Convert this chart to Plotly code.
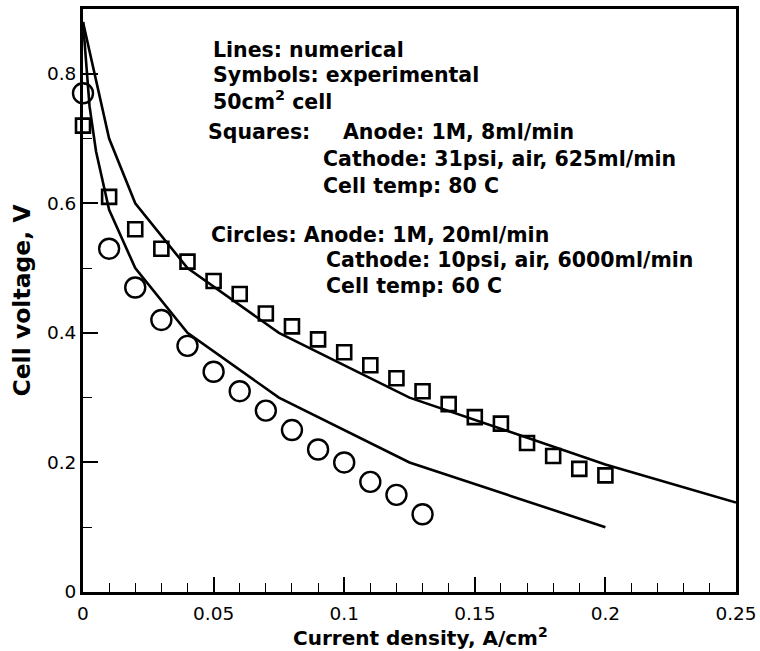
import plotly.graph_objects as go

# Experimental polarization data (current density in A/cm^2, cell voltage in V)
squares_j = [0.00, 0.01, 0.02, 0.03, 0.04, 0.05, 0.06, 0.07, 0.08, 0.09, 0.10,
             0.11, 0.12, 0.13, 0.14, 0.15, 0.16, 0.17, 0.18, 0.19, 0.20]
squares_v = [0.72, 0.61, 0.56, 0.53, 0.51, 0.48, 0.46, 0.43, 0.41, 0.39, 0.37,
             0.35, 0.33, 0.31, 0.29, 0.27, 0.26, 0.23, 0.21, 0.19, 0.18]

circles_j = [0.00, 0.01, 0.02, 0.03, 0.04, 0.05, 0.06, 0.07, 0.08, 0.09, 0.10,
             0.11, 0.12, 0.13]
circles_v = [0.77, 0.53, 0.47, 0.42, 0.38, 0.34, 0.31, 0.28, 0.25, 0.22, 0.20,
             0.17, 0.15, 0.12]

# Numerical model curves
model_sq_j = [0.0, 0.01, 0.02, 0.04, 0.075, 0.125, 0.2, 0.25]
model_sq_v = [0.88, 0.70, 0.60, 0.50, 0.40, 0.30, 0.197, 0.138]

model_ci_j = [0.0, 0.0025, 0.005, 0.01, 0.02, 0.04, 0.075, 0.125, 0.2]
model_ci_v = [0.88, 0.75, 0.68, 0.59, 0.50, 0.40, 0.30, 0.20, 0.10]

# Axis ticks: major labels and minor subdivisions
x_ticks = [0, 0.05, 0.1, 0.15, 0.2, 0.25]
y_ticks = [0, 0.2, 0.4, 0.6, 0.8]
y_max = 0.9
x_minor_step = 0.01
y_minor_step = 0.1

FONT = "DejaVu Sans, Verdana, sans-serif"
BLACK = "#000000"

# Plot area in pixels
L, T, W, H = 83, 9, 653, 583
x_min, x_max = x_ticks[0], x_ticks[-1]
y_min = y_ticks[0]


def px(xp):
    return (xp - L) / W


def py(yp):
    return (T + H - yp) / H


fig = go.Figure()

fig.add_trace(go.Scatter(x=model_sq_j, y=model_sq_v, mode="lines",
                         line=dict(color=BLACK, width=2.6), cliponaxis=False,
                         showlegend=False))
fig.add_trace(go.Scatter(x=model_ci_j, y=model_ci_v, mode="lines",
                         line=dict(color=BLACK, width=2.6), cliponaxis=False,
                         showlegend=False))
fig.add_trace(go.Scatter(x=squares_j, y=squares_v, mode="markers",
                         marker=dict(symbol="square-open", size=14, color=BLACK,
                                     line=dict(width=2.6, color=BLACK)),
                         cliponaxis=False, showlegend=False))
fig.add_trace(go.Scatter(x=circles_j, y=circles_v, mode="markers",
                         marker=dict(symbol="circle-open", size=20, color=BLACK,
                                     line=dict(width=2.4, color=BLACK)),
                         cliponaxis=False, showlegend=False))

# Text block describing the runs
notes = [
    ("Lines: numerical", 211, 50),
    ("Symbols: experimental", 211, 75),
    ("50cm<sup>2</sup> cell", 211, 101),
    ("Squares:", 206, 132),
    ("Anode: 1M, 8ml/min", 341, 132),
    ("Cathode: 31psi, air, 625ml/min", 321, 159),
    ("Cell temp: 80 C", 321, 186),
    ("Circles: Anode: 1M, 20ml/min", 209, 235),
    ("Cathode: 10psi, air, 6000ml/min", 324, 260),
    ("Cell temp: 60 C", 324, 286),
]
for text, xp, yp in notes:
    fig.add_annotation(x=px(xp), y=py(yp), xref="paper", yref="paper",
                       text="<b>" + text + "</b>", showarrow=False,
                       xanchor="left", yanchor="middle",
                       font=dict(family=FONT, size=20.5, color=BLACK))

# x-axis title
fig.add_annotation(x=px(420), y=py(637), xref="paper", yref="paper",
                   text="<b>Current density, A/cm<sup>2</sup></b>",
                   showarrow=False, xanchor="center", yanchor="middle",
                   font=dict(family=FONT, size=20, color=BLACK))

axis_common = dict(
    showgrid=False, zeroline=False, showline=True, linecolor=BLACK,
    linewidth=3, mirror=True, ticks="inside", tickcolor=BLACK,
    tickfont=dict(family=FONT, size=18.5, color=BLACK),
    tickmode="linear", automargin=False,
)

fig.update_xaxes(
    range=[x_min, x_max], tick0=x_ticks[0],
    dtick=x_ticks[1] - x_ticks[0], ticklen=15, tickwidth=2.4,
    ticklabelstandoff=3,
    minor=dict(tick0=x_ticks[0], dtick=x_minor_step, ticks="inside",
               ticklen=9, tickwidth=1.4, tickcolor=BLACK, showgrid=False),
    **axis_common,
)
fig.update_yaxes(
    range=[y_min, y_max], tick0=y_ticks[0],
    dtick=y_ticks[1] - y_ticks[0], ticklen=15, tickwidth=2.4,
    minor=dict(tick0=y_ticks[0], dtick=y_minor_step, ticks="inside",
               ticklen=9, tickwidth=1.4, tickcolor=BLACK, showgrid=False),
    title=dict(text="<b>Cell voltage, V</b>",
               font=dict(family=FONT, size=23.5, color=BLACK), standoff=10),
    **axis_common,
)

fig.update_layout(
    width=760, height=651,
    margin=dict(l=L, r=760 - L - W, t=T, b=651 - T - H),
    plot_bgcolor="white", paper_bgcolor="white",
    font=dict(family=FONT, color=BLACK),
)

fig.write_html("out.html")
